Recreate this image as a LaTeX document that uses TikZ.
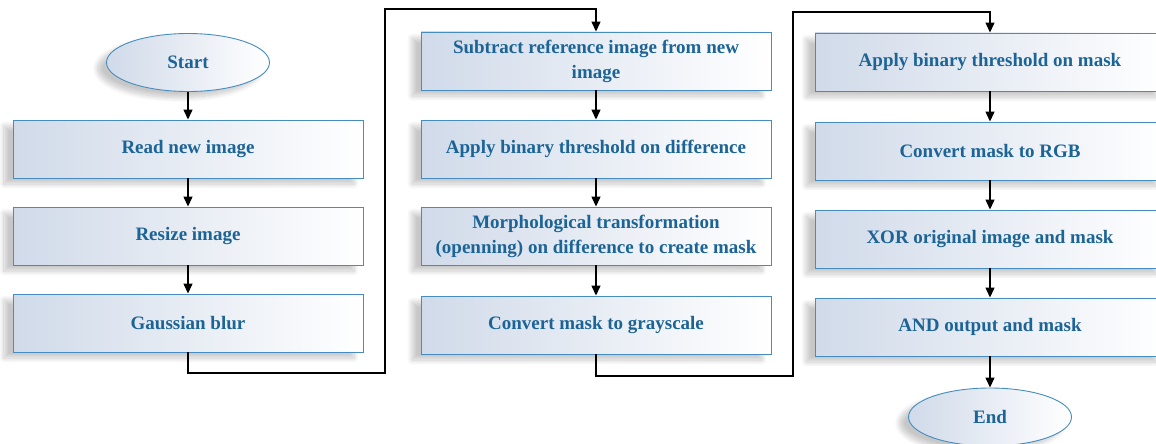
\documentclass[tikz,border=0pt]{standalone}
\usepackage{fontspec}
\setmainfont{Liberation Serif}
\usetikzlibrary{arrows.meta,shapes.geometric,shadows.blur}
\definecolor{txt}{RGB}{28,100,150}
\definecolor{edge}{RGB}{70,140,190}
\definecolor{fillL}{RGB}{208,218,233}
\begin{document}
\begin{tikzpicture}[x=1pt,y=-1pt,
  base/.style={draw=edge, line width=0.9pt, left color=fillL, right color=white,
    text=txt, font=\fontsize{19}{25}\selectfont\bfseries, align=center,
    blur shadow={shadow xshift=-9pt, shadow yshift=-6pt, shadow opacity=22, shadow blur steps=10, shadow blur radius=5pt}},
  box/.style={base, rectangle, minimum width=350pt, minimum height=58pt, inner sep=3pt},
  term/.style={base, ellipse, minimum width=163pt, minimum height=58pt, inner sep=0pt},
  arr/.style={-{Triangle[length=10pt,width=9pt]}, line width=1.3pt}]
\useasboundingbox (0,0) rectangle (1156,444);
\clip (0,0) rectangle (1156,444);
% column 1
\node[term] (start) at (188,62.5) {Start};
\node[box] (read) at (188,149) {Read new image};
\node[box] (resize) at (188,236) {Resize image};
\node[box] (gauss) at (188,323) {Gaussian blur};
% column 2
\node[box] (sub) at (596,61) {Subtract reference image from new\\image};
\node[box] (thr) at (596,149) {Apply binary threshold on difference};
\node[box] (morph) at (596,236) {Morphological transformation\\(openning) on difference to create mask};
\node[box] (gray) at (596,325) {Convert mask to grayscale};
% column 3
\node[box] (thr2) at (990,62) {Apply binary threshold on mask};
\node[box] (rgb) at (990,151) {Convert mask to RGB};
\node[box] (xor) at (990,239) {XOR original image and mask};
\node[box] (and) at (990,327) {AND output and mask};
\node[term] (end) at (990,417) {End};
% connectors
\coordinate (c1) at (385,373);
\coordinate (c2) at (385,9);
\coordinate (c3) at (793,376);
\coordinate (c4) at (793,12);
\draw[arr] (start) -- (read);
\draw[arr] (read) -- (resize);
\draw[arr] (resize) -- (gauss);
\draw[arr] (gauss.south) |- (c1) -- (c2) -| (sub.north);
\draw[arr] (sub) -- (thr);
\draw[arr] (thr) -- (morph);
\draw[arr] (morph) -- (gray);
\draw[arr] (gray.south) |- (c3) -- (c4) -| (thr2.north);
\draw[arr] (thr2) -- (rgb);
\draw[arr] (rgb) -- (xor);
\draw[arr] (xor) -- (and);
\draw[arr] (and) -- (end);
\end{tikzpicture}
\end{document}
